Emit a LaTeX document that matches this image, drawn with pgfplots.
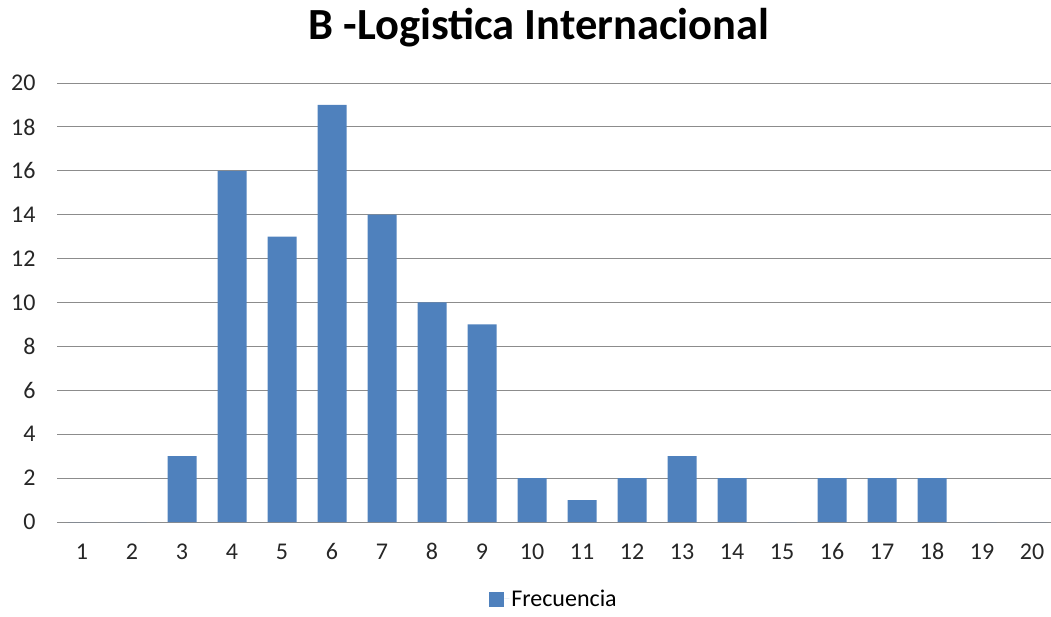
\documentclass[border=0pt]{standalone}
\usepackage{pgfplots}
\pgfplotsset{compat=1.18}
\usepackage{fontspec}
\setmainfont{Carlito}
\definecolor{barblue}{HTML}{4F81BD}
\definecolor{gridgray}{HTML}{8C8C8C}
\begin{document}
\begin{tikzpicture}[x=1pt,y=1pt]
\path[use as bounding box] (0,0) rectangle (1051,616);
\begin{axis}[
  at={(57pt,94pt)}, anchor=origin,
  scale only axis, width=994pt, height=439pt,
  xmin=0.5, xmax=20.38, ymin=0, ymax=20,
  xtick={1,...,20}, ytick={0,2,...,20},
  ymajorgrids, grid style={gridgray, line width=0.8pt},
  major tick length=0pt,
  axis x line*=bottom, axis y line*=left,
  x axis line style={gridgray, line width=0.8pt, -},
  y axis line style={draw=none},
  tick label style={font=\fontsize{24}{26}\selectfont, text=black!85},
  /pgf/number format/assume math mode=true,
  xticklabel style={anchor=base, yshift=-37pt},
  yticklabel style={xshift=-18pt},
  ybar, bar width=29pt,
  legend style={at={(0.5,-0.175)}, anchor=center, draw=none, font=\fontsize{24}{26}\selectfont, legend columns=1},
  legend image code/.code={\fill[barblue] (-9pt,-8pt) rectangle (6pt,7pt); \path (6pt,0pt) -- (11pt,0pt);},
]
\addplot[fill=barblue, draw=none] coordinates {
(1,0) (2,0) (3,3) (4,16) (5,13) (6,19) (7,14) (8,10) (9,9) (10,2)
(11,1) (12,2) (13,3) (14,2) (15,0) (16,2) (17,2) (18,2) (19,0) (20,0)};
\addlegendentry{Frecuencia}
\end{axis}
\node[font=\fontsize{44.5}{48}\selectfont\bfseries] at (539,588) {B -Logistica Internacional};
\end{tikzpicture}
\end{document}
